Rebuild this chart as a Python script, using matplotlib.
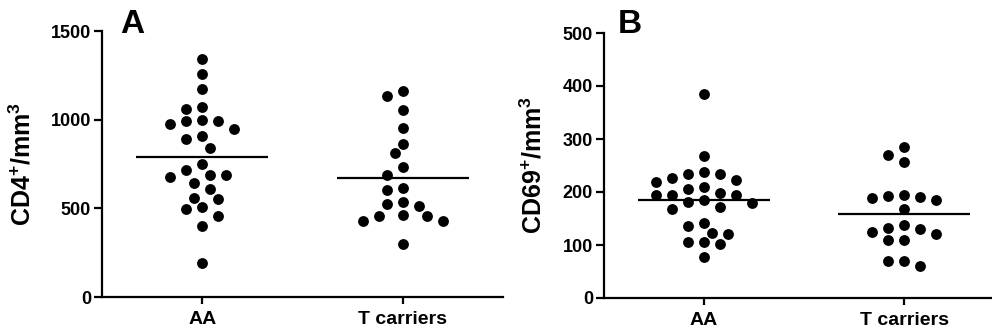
import numpy as np
import matplotlib
matplotlib.use('Agg')
import matplotlib.pyplot as plt

plt.rcParams['font.family'] = ['Liberation Sans', 'DejaVu Sans']
plt.rcParams['font.weight'] = 'bold'
plt.rcParams['mathtext.fontset'] = 'custom'
plt.rcParams['mathtext.bf'] = 'Liberation Sans:bold'
plt.rcParams['mathtext.rm'] = 'Liberation Sans:bold'
plt.rcParams['mathtext.default'] = 'bf'

groups = ['AA', 'T carriers']

cd4_aa = [1340, 1256, 1175, 1073, 1058, 998, 990, 995, 977, 947, 907, 889, 843, 749,
          715, 687, 687, 674, 644, 608, 552, 561, 499, 505, 456, 403, 189]
cd4_t = [1163, 1133, 1054, 954, 864, 811, 734, 687, 606, 612, 512, 525, 536, 459,
         456, 463, 429, 426, 301]

cd69_aa = [385, 267, 237, 234, 234, 226, 222, 218, 206, 209, 199, 194, 194, 194,
           185, 180, 182, 167, 171, 141, 135, 123, 121, 105, 102, 106, 77]
cd69_t = [285, 269, 256, 193, 189, 195, 191, 184, 168, 133, 138, 125, 130, 121,
          109, 109, 70, 61, 70]


def swarm(ax, x0, vals, d=12.0, step=8.0):
    # simple beeswarm in pixel space
    trans = ax.transData
    px_per_x = trans.transform((1, 0))[0] - trans.transform((0, 0))[0]
    order = np.argsort(vals)[::-1]
    placed = []
    xs = np.zeros(len(vals))
    for i in order:
        py = trans.transform((x0, vals[i]))[1]
        for k in range(0, 20):
            found = False
            for s in ([0] if k == 0 else [-k, k]):
                px = s * step
                if all((px - qx) ** 2 + (py - qy) ** 2 >= d ** 2 for qx, qy in placed):
                    placed.append((px, py))
                    xs[i] = x0 + px / px_per_x
                    found = True
                    break
            if found:
                break
    return xs


def panel(ax, aa, tc, ymax, yticks, ylabel, labx):
    ax.set_xlim(-0.5, 1.5)
    ax.set_ylim(0, ymax)
    for x0, vals in zip([0, 1], [aa, tc]):
        xs = swarm(ax, x0, vals)
        ax.plot(xs, vals, 'o', color='black', markersize=7.8, markeredgewidth=0)
        ax.hlines(np.mean(vals), x0 - 0.33, x0 + 0.33, color='black', lw=1.6)
    ax.spines['top'].set_visible(False)
    ax.spines['right'].set_visible(False)
    ax.spines['left'].set_linewidth(1.6)
    ax.spines['bottom'].set_linewidth(1.6)
    ax.set_xticks([0, 1])
    ax.set_xticklabels(groups, fontsize=14, fontweight='bold')
    ax.set_yticks(yticks)
    ax.set_yticklabels([str(t) for t in yticks], fontsize=13, fontweight='bold')
    ax.tick_params(axis='y', length=6, width=1.6, pad=2)
    ax.tick_params(axis='x', length=5, width=1.6, pad=5)
    ax.set_ylabel(ylabel, fontsize=18, fontweight='bold')
    ax.yaxis.set_label_coords(labx, 0.5)


fig = plt.figure(figsize=(9.92, 3.34), dpi=100)
axA = fig.add_axes([102 / 992, 37 / 334, 401 / 992, 266 / 334])
axB = fig.add_axes([604 / 992, 36 / 334, 400 / 992, 265 / 334])

panel(axA, cd4_aa, cd4_t, 1500, [0, 500, 1000, 1500], r'CD4$^{+}$/mm$^{3}$', -0.165)
panel(axB, cd69_aa, cd69_t, 500, [0, 100, 200, 300, 400, 500], r'CD69$^{+}$/mm$^{3}$', -0.1425)

fig.text(120 / 992, 1 - 9 / 334, 'A', fontsize=24, fontweight='bold', va='top', ha='left')
fig.text(618 / 992, 1 - 9 / 334, 'B', fontsize=24, fontweight='bold', va='top', ha='left')

fig.savefig('out.png', dpi=100)
